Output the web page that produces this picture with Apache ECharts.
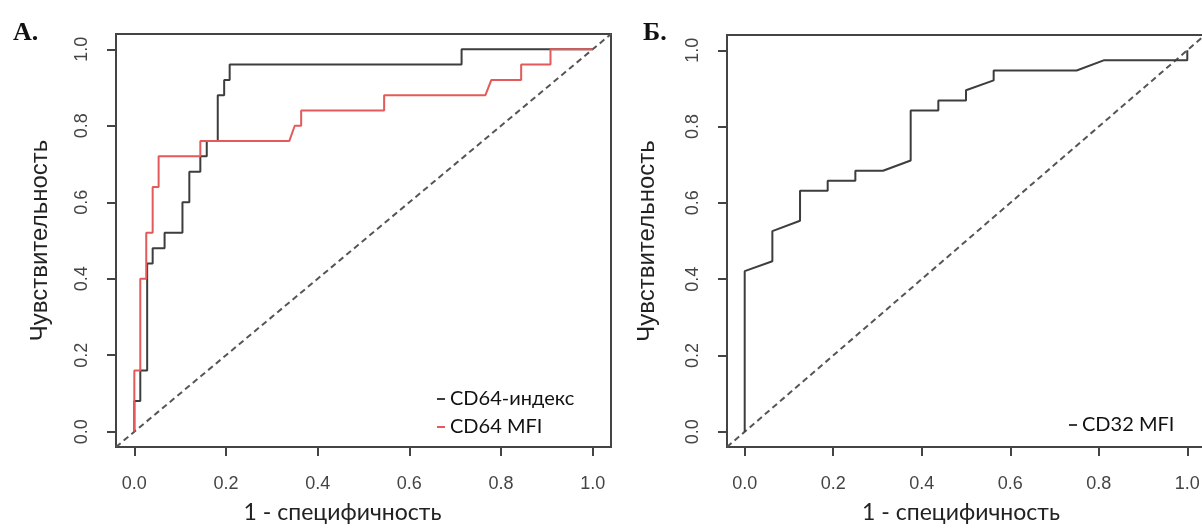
<!DOCTYPE html>
<html>
<head>
<meta charset="utf-8">
<script src="https://cdn.jsdelivr.net/npm/echarts@6/dist/echarts.min.js"></script>
<style>
html,body{margin:0;padding:0;background:#fff;}
#chart{width:1202px;height:531px;}
</style>
</head>
<body>
<div id="chart"></div>
<script>
// ---- Data ----
// Panel A: CD64-индекс ROC curve (1 - specificity, sensitivity)
var cd64IndexX = [0, 0, 0.013, 0.013, 0.028, 0.028, 0.04, 0.04, 0.066, 0.066, 0.105, 0.105, 0.12, 0.12, 0.144, 0.144, 0.158, 0.158, 0.182, 0.182, 0.196, 0.196, 0.208, 0.208, 0.714, 0.714, 1.0];
var cd64IndexY = [0, 0.08, 0.08, 0.16, 0.16, 0.44, 0.44, 0.48, 0.48, 0.52, 0.52, 0.60, 0.60, 0.68, 0.68, 0.72, 0.72, 0.76, 0.76, 0.88, 0.88, 0.92, 0.92, 0.96, 0.96, 1.0, 1.0];
// Panel A: CD64 MFI ROC curve
var cd64MfiX = [0, 0, 0.013, 0.013, 0.026, 0.026, 0.04, 0.04, 0.053, 0.053, 0.144, 0.144, 0.338, 0.35, 0.364, 0.364, 0.545, 0.545, 0.766, 0.779, 0.844, 0.844, 0.908, 0.908, 1.0];
var cd64MfiY = [0, 0.16, 0.16, 0.40, 0.40, 0.52, 0.52, 0.64, 0.64, 0.72, 0.72, 0.76, 0.76, 0.80, 0.80, 0.84, 0.84, 0.88, 0.88, 0.92, 0.92, 0.96, 0.96, 1.0, 1.0];
// Panel B: CD32 MFI ROC curve
var cd32X = [0, 0, 0.0625, 0.0625, 0.125, 0.125, 0.1875, 0.1875, 0.25, 0.25, 0.3125, 0.375, 0.375, 0.4375, 0.4375, 0.5, 0.5, 0.5625, 0.5625, 0.75, 0.8125, 1.0, 1.0];
var cd32Y = [0, 0.421, 0.447, 0.526, 0.553, 0.632, 0.632, 0.658, 0.658, 0.684, 0.684, 0.711, 0.842, 0.842, 0.868, 0.868, 0.895, 0.921, 0.947, 0.947, 0.974, 0.974, 1.0];
// Reference diagonal (chance line), spans the whole plot region
var diagX = [-0.04, 1.04];
var diagY = [-0.04, 1.04];
// Axis ticks and labels
var tickValues = [0, 0.2, 0.4, 0.6, 0.8, 1.0];
var panelLabels = ['A.', 'Б.'];
var xTitle = '1 - специфичность';
var yTitle = 'Чувствительность';
var seriesNamesA = ['CD64-индекс', 'CD64 MFI'];
var seriesNamesB = ['CD32 MFI'];

function pairs(xs, ys) { return xs.map(function (x, i) { return [x, ys[i]]; }); }

var BLACK = '#3d3d3d';
var RED = '#e25a5a';
var AXC = '#444';

function makeX(idx, nameExtra) {
  return {
    type: 'value', gridIndex: idx, min: -0.04, max: 1.04,
    name: xTitle, nameLocation: 'middle', nameGap: 54,
    nameTextStyle: { fontFamily: 'Lato', fontSize: 23, color: '#222', padding: nameExtra },
    axisLine: { show: false, onZero: false },
    axisTick: { show: true, inside: false, customValues: tickValues, length: 9, lineStyle: { color: AXC, width: 2 } },
    axisLabel: { show: true, customValues: tickValues, margin: 28, fontFamily: 'Liberation Sans', fontSize: 18, color: '#444',
      formatter: function (v) { return v.toFixed(1); } },
    splitLine: { show: false }
  };
}
function makeY(idx, gap) {
  return {
    type: 'value', gridIndex: idx, min: -0.04, max: 1.04,
    name: yTitle, nameLocation: 'middle', nameGap: gap, nameRotate: 90,
    nameTextStyle: { fontFamily: 'Liberation Sans', fontSize: 24, color: '#222' },
    axisLine: { show: false, onZero: false },
    axisTick: { show: true, inside: false, customValues: tickValues, length: 9, lineStyle: { color: AXC, width: 2 } },
    axisLabel: { show: true, customValues: tickValues, rotate: 90, margin: 25, fontFamily: 'Liberation Sans', fontSize: 18, color: '#444',
      formatter: function (v) { return v.toFixed(1); } },
    splitLine: { show: false }
  };
}
function curve(name, xs, ys, color, xi) {
  return {
    name: name, type: 'line', xAxisIndex: xi, yAxisIndex: xi,
    data: pairs(xs, ys), showSymbol: false, symbol: 'none', animation: false,
    color: color, itemStyle: { color: color },
    lineStyle: { color: color, width: 2 }, z: 3
  };
}
function diag(xi) {
  return {
    name: 'diag', type: 'line', xAxisIndex: xi, yAxisIndex: xi,
    data: pairs(diagX, diagY), showSymbol: false, symbol: 'none', animation: false,
    lineStyle: { color: '#555', width: 2, type: [6, 4] }, z: 2, silent: true
  };
}

var chart = echarts.init(document.getElementById('chart'), null, { renderer: 'canvas' });
chart.setOption({
  backgroundColor: '#fff',
  animation: false,
  title: [
    { text: panelLabels[0], left: 8, top: 15, textStyle: { fontFamily: 'Liberation Serif', fontWeight: 'bold', fontSize: 26, color: '#111' } },
    { text: panelLabels[1], left: 638, top: 15, textStyle: { fontFamily: 'Liberation Serif', fontWeight: 'bold', fontSize: 26, color: '#111' } }
  ],
  grid: [
    { left: 116, top: 34, width: 495, height: 413, show: true, borderColor: AXC, borderWidth: 2, backgroundColor: 'transparent', containLabel: false, outerBoundsMode: 'none' },
    { left: 727, top: 35, width: 478, height: 412, show: true, borderColor: AXC, borderWidth: 2, backgroundColor: 'transparent', containLabel: false, outerBoundsMode: 'none' }
  ],
  xAxis: [makeX(0, [0, 42, 0, 0]), makeX(1, [0, 10, 0, 0])],
  yAxis: [makeY(0, 64), makeY(1, 68)],
  legend: [
    { data: seriesNamesA, orient: 'vertical', left: 432, top: 384, icon: 'rect', itemWidth: 8, itemHeight: 2, itemGap: 8,
      textStyle: { fontFamily: 'Lato', fontSize: 20, color: '#111' }, selectedMode: false },
    { data: seriesNamesB, orient: 'vertical', left: 1064, top: 410, icon: 'rect', itemWidth: 8, itemHeight: 2,
      textStyle: { fontFamily: 'Lato', fontSize: 20, color: '#111' }, selectedMode: false }
  ],
  series: [
    diag(0),
    curve(seriesNamesA[0], cd64IndexX, cd64IndexY, BLACK, 0),
    curve(seriesNamesA[1], cd64MfiX, cd64MfiY, RED, 0),
    diag(1),
    curve(seriesNamesB[0], cd32X, cd32Y, BLACK, 1)
  ]
});
</script>
</body>
</html>
